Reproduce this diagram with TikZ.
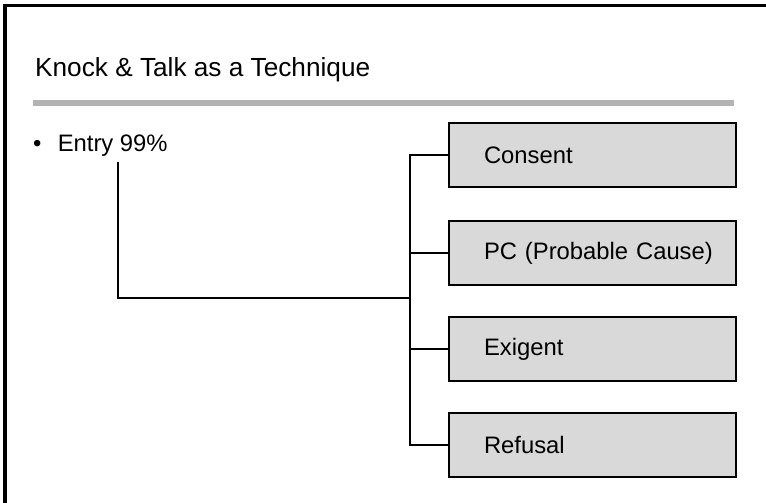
\documentclass[tikz,border=0pt]{standalone}
\usepackage{fontspec}
\setmainfont{Liberation Sans}
\definecolor{boxfill}{HTML}{D9D9D9}
\definecolor{rulegray}{HTML}{B3B3B3}
\tikzset{
  optbox/.style={draw=black, line width=2pt, fill=boxfill, minimum width=287pt, minimum height=64pt,
    text width=287pt, inner xsep=0pt, inner ysep=0pt, align=left, anchor=north west,
    font=\fontsize{23.8pt}{26pt}\selectfont},
  conn/.style={draw=black, line width=1.6pt},
}
\begin{document}
\begin{tikzpicture}[x=1pt,y=1pt]
\useasboundingbox (0,0) rectangle (766,-503);
\fill[white] (0,0) rectangle (766,-503);
% frame (top and left edges)
\draw[line width=3.5pt] (5,-520) -- (5,-5.5) -- (780,-5.5);
% title
\node[anchor=base west, inner sep=0pt, font=\fontsize{26.2pt}{28pt}\selectfont] (title) at (35,-77) {Knock \& Talk as a Technique};
\fill[rulegray] (33,-100) rectangle (734,-106);
% bullet
\node[anchor=base west, inner sep=0pt, font=\fontsize{23.8pt}{26pt}\selectfont] (entry) at (33,-151) {•\hspace{16.3pt}Entry 99\%};
% boxes
\node[optbox] (consent) at (448,-122) {\hspace*{35pt}Consent};
\node[optbox] (pc) at (448,-220) {\hspace*{35pt}PC (Probable Cause)};
\node[optbox] (exigent) at (448,-316) {\hspace*{35pt}Exigent};
\node[optbox] (refusal) at (448,-412) {\hspace*{35pt}Refusal};
% connectors
\coordinate (stub) at (118,-162);
\coordinate (junc) at (410,-298);
\draw[conn] (consent.west) -- ++(-38,0) |- (refusal.west);
\draw[conn] (pc.west) -- ++(-38,0);
\draw[conn] (exigent.west) -- ++(-38,0);
\draw[conn] (stub) |- (junc);
\end{tikzpicture}
\end{document}
